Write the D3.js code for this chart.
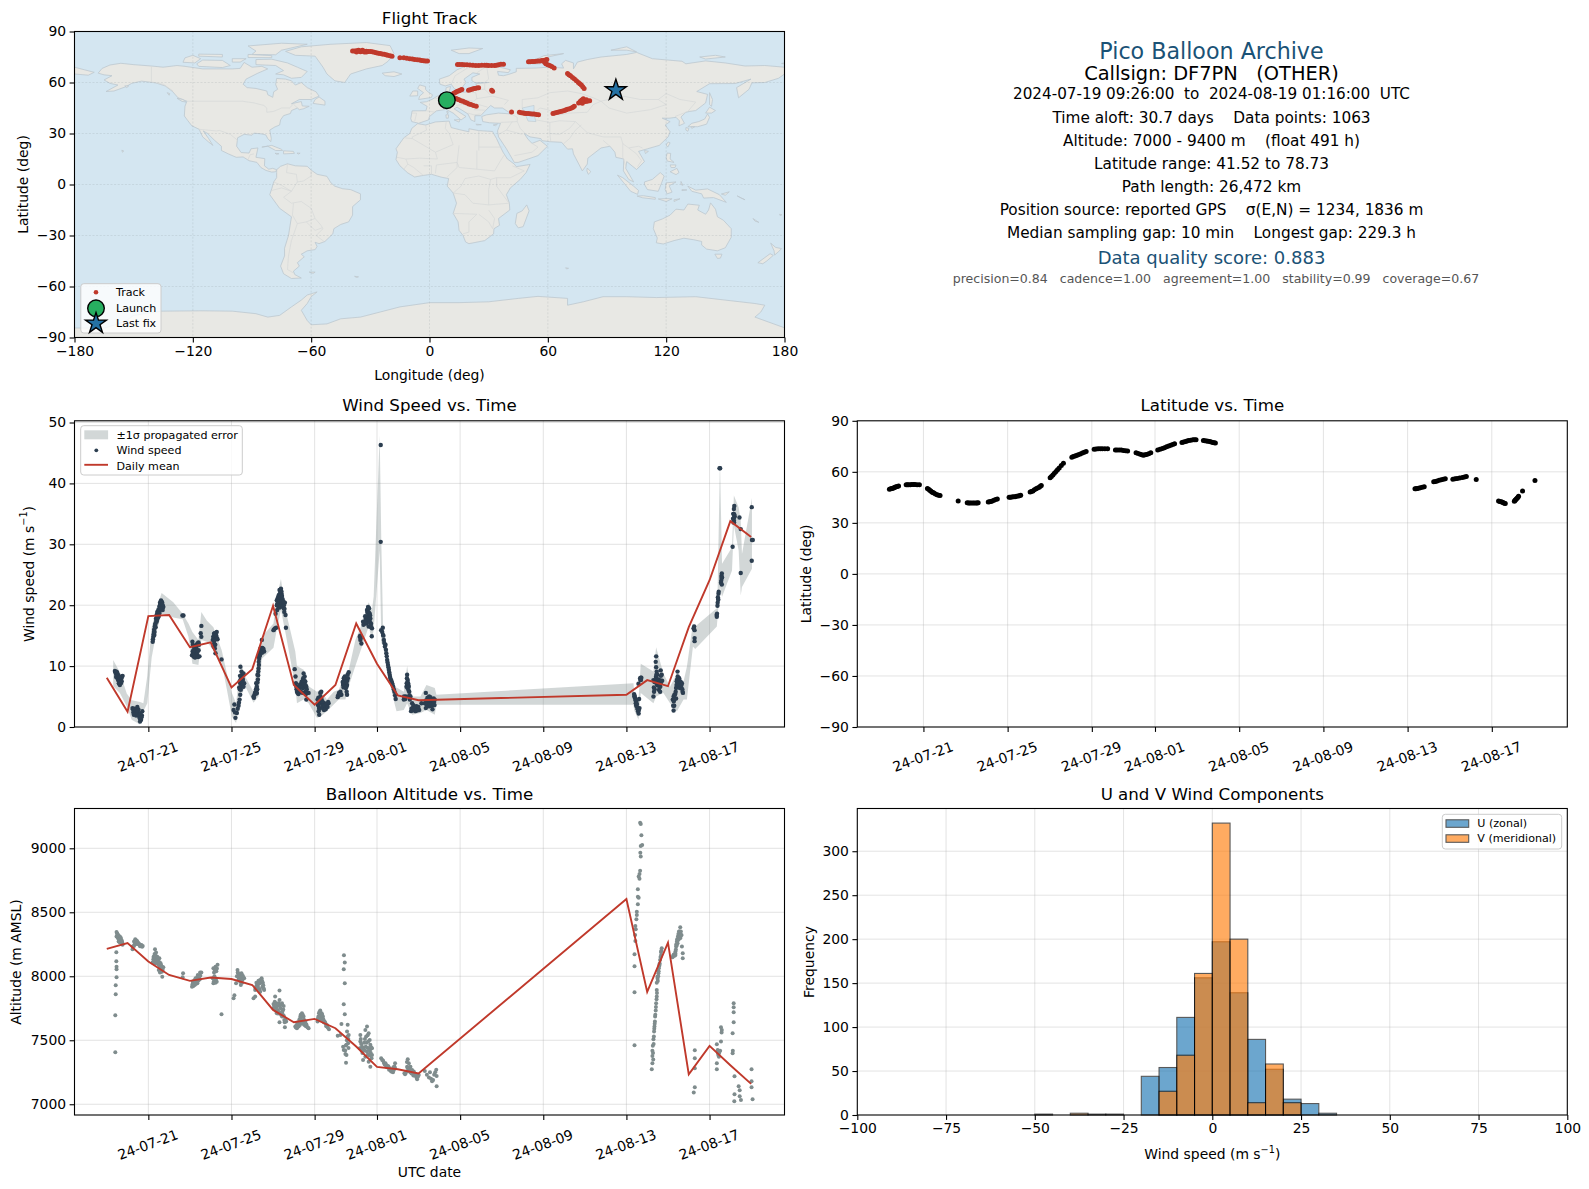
<!DOCTYPE html>
<html><head><meta charset="utf-8">
<script src="https://cdn.jsdelivr.net/npm/d3@7/dist/d3.min.js"></script>
<style>
html,body{margin:0;padding:0;background:#fff}
svg{display:block}
text{font-family:"DejaVu Sans",sans-serif;white-space:pre}
</style></head><body>
<svg id="c" width="1589" height="1189"></svg>
<script>
// ---------- values; day numbers count from 2024-07-21 00:00 UTC
const flightStartDay = -1.608, flightEndDay = 29.053, meanStartDay = -2;
const dateTicks = ["2024-07-21","2024-07-25","2024-07-29","2024-08-01","2024-08-05","2024-08-09","2024-08-13","2024-08-17"];

const meanDays = [-2,-1,0,1,2,3,4,5,6,7,8,9,10,11,12,13,23,24,25,26,27,28,29];
const meanWind = [8.07,2.5,18.2,18.4,13.1,13.9,6.5,9.5,19.9,6.9,3.65,6.9,17,10.4,5.2,4.4,5.3,7.7,6.7,16.4,24.1,33.8,31.2];
const meanAlt = [8214,8260,8115,8010,7964,7990,7979,7932,7737,7641,7667,7594,7451,7292,7273,7240,8604,7878,8263,7234,7456,7305,7159];

const windPoints = [[-1.61,9.2],[-1.56,8.8],[-1.53,8.4],[-1.49,8.1],[-1.53,9.1],[-1.45,7.7],[-1.41,7.5],[-1.40,7.1],[-1.37,6.9],[-1.33,7.6],[-1.30,8.0],[-1.27,8.3],[-1.24,8.4],[-1.32,7.2],[-1.43,8.0],[-1.48,8.6],
[-0.76,3.1],[-0.69,2.6],[-0.64,2.2],[-0.59,2.8],[-0.53,3.3],[-0.48,2.3],[-0.43,1.7],[-0.35,1.2],[-0.29,2.6],[-0.31,1.9],[-0.40,0.9],[-0.59,1.9],[-0.48,2.9],[-0.72,2.4],[-0.56,2.6],
[.21,14.0],[.24,14.8],[.27,15.6],[.31,16.5],[.34,17.0],[.37,17.8],[.40,18.4],[.43,18.9],[.48,19.2],[.53,19.7],[.56,20.4],[.61,20.8],[.66,20.5],[.72,19.7],[.69,19.2],[.50,18.6],[.40,17.3],[.29,15.1],[.56,19.3],[.63,20.0],
[1.64,18.3],[1.69,18.3],
[2.12,14.0],[2.14,13.5],[2.17,12.6],[2.20,11.8],[2.25,11.4],[2.30,12.4],[2.33,13.5],[2.36,13.7],[2.41,13.9],[2.46,11.6],[2.36,11.7],[2.10,11.8],[2.17,11.6],[2.22,13.1],[2.30,11.8],[2.55,16.6],[2.52,15.4],[2.55,14.8],
[3.29,15.6],[3.16,15.3],[3.21,14.8],[3.33,14.4],[3.10,14.3],[3.16,13.7],[3.20,12.9],[3.23,12.1],[3.52,11.1],
[4.10,2.8],[4.19,1.5],[4.26,2.3],[4.14,3.7],[4.34,3.5],[4.39,4.5],[4.42,5.3],[4.45,6.1],[4.42,7.2],[4.43,9.9],[4.48,9.1],[4.51,8.6],[4.55,7.7],[4.61,7.2],[4.39,7.5],[4.50,6.9],[4.58,8.8],
[5.06,5.0],[5.11,5.3],[5.16,5.8],[5.22,6.6],[5.19,7.2],[5.25,8.6],[5.29,9.1],[5.32,10.2],[5.29,11.6],[5.35,12.1],[5.41,12.6],[5.46,14.3],[5.51,12.5],[5.57,12.4],[5.22,5.6],[5.25,7.3],
[6.02,15.9],[6.09,16.2],[6.15,16.3],[6.12,18.6],[6.18,20.0],[6.22,21.1],[6.27,20.5],[6.31,22.5],[6.38,22.7],[6.41,21.9],[6.44,20.8],[6.47,20.3],[6.51,19.5],[6.54,18.9],[6.60,18.4],[6.62,16.3],[6.35,20.3],[6.18,20.8],[6.41,21.4],[6.57,20.4],
[7.04,9.5],[7.08,8.3],[7.12,6.6],[7.15,5.8],[7.18,5.6],[7.24,5.6],[7.31,6.6],[7.39,7.2],[7.47,8.8],[7.52,8.3],[7.55,7.5],[7.60,6.6],[7.63,5.6],[7.71,5.6],[7.60,4.5],[7.34,5.8],[7.44,6.4],[7.23,6.4],[7.55,5.8],
[8.14,4.5],[8.19,2.6],[8.22,2.0],[8.27,5.6],[8.32,5.8],[8.35,3.9],[8.40,3.7],[8.43,3.1],[8.51,3.1],[8.59,3.4],[8.67,3.9],[8.21,3.1],[8.47,3.9],[8.31,4.5],
[9.11,4.9],[9.17,5.6],[9.24,5.8],[9.29,5.3],[9.37,6.9],[9.40,8.0],[9.45,8.3],[9.49,7.2],[9.53,6.6],[9.56,5.3],[9.59,8.6],[9.64,9.0],[9.56,6.9],[9.37,7.1],
[10.17,14.8],[10.20,14.3],[10.25,13.7],[10.33,17.3],[10.39,17.3],[10.46,17.8],[10.52,19.2],[10.57,19.7],[10.62,19.5],[10.65,18.6],[10.68,17.8],[10.71,17.0],[10.76,16.2],[10.75,14.9],[10.49,17.0],[10.60,16.5],
[11.18,46.3],[11.18,30.4],
[11.2,15.9],[11.28,16.3],[11.29,15.1],[11.33,14.3],[11.41,13.5],[11.45,12.1],[11.49,11.0],[11.53,10.2],[11.57,9.4],[11.61,8.6],[11.68,7.7],[11.73,7.2],[11.78,6.6],[11.84,5.8],[11.90,4.6],
[12.29,4.5],[12.39,5.0],[12.45,8.6],[12.48,7.7],[12.51,6.9],[12.55,5.8],[12.61,5.0],[12.42,6.6],[12.58,4.5],
[12.64,2.6],[12.71,3.1],[12.77,3.4],[12.84,2.6],[12.90,3.4],[12.96,3.1],[13.03,2.8],[12.69,3.9],
[13.14,3.9],[13.30,3.9],[13.35,5.6],[13.35,3.1],[13.46,4.7],[13.51,5.0],[13.57,4.9],[13.62,4.5],[13.67,4.0],[13.73,4.7],[13.78,4.5],[13.67,2.9],[13.51,3.9],[13.41,4.2],
[23.37,5.4],[23.42,4.7],[23.47,4.2],[23.50,3.7],[23.56,2.6],[23.59,2.2],[23.63,3.1],[23.61,4.6],[23.66,8.0],[23.72,8.1],[23.58,7.1],[23.47,3.5],
[24.43,11.6],[24.41,10.7],[24.43,9.8],[24.46,9.1],[24.49,8.6],[24.65,9.3],[24.70,8.6],[24.30,7.7],[24.38,7.5],[24.49,6.9],[24.59,7.7],[24.65,7.2],[24.56,6.1],[24.33,5.8],[24.30,5.0],[24.62,5.8],[24.72,7.6],
[25.27,2.7],[25.30,3.5],[25.23,4.5],[25.31,5.3],[25.39,6.4],[25.42,7.5],[25.46,9.1],[25.51,8.0],[25.59,7.5],[25.67,7.2],[25.64,6.4],[25.72,5.6],[25.39,4.7],[25.27,5.0],[25.56,6.9],
[26.26,16.5],[26.28,15.9],[26.28,14.6],[26.28,14.1],[26.23,16.2],
[27.34,18.4],[27.35,18.1],[27.39,20.4],[27.40,21.3],[27.43,21.9],[27.55,23.7],[27.59,23.4],[27.58,24.4],[27.59,25.2],[27.44,22.2],
[27.51,42.5],[27.48,42.5],[28.11,29.6],[28.17,33.9],[28.16,35.0],[28.19,36.3],[28.17,35.8],[28.21,34.6],[28.13,34.2],[28.44,34.4],[28.50,25.3],[28.50,32.5],[29.03,36.1],[29.04,30.7],[29.08,30.7],[29.03,27.3]];
const windDense = [[-1.58,9.0],[-1.55,8.2],[-1.5,8.9],[-1.47,7.9],[-1.44,8.5],[-1.42,7.2],[-1.38,7.8],[-1.35,7.3],[-1.31,7.9],[-1.28,7.5],[-1.39,8.2],
[-.74,2.9],[-.67,3.0],[-.62,2.5],[-.57,2.2],[-.51,2.7],[-.46,1.9],[-.41,1.4],[-.38,2.2],[-.33,1.6],[-.7,2.0],
[.22,14.4],[.25,15.2],[.28,16],[.3,15.6],[.33,16.8],[.35,16.4],[.38,17.4],[.41,18],[.42,17.6],[.44,18.4],[.46,18.8],[.49,18.2],[.52,19],[.54,18.7],[.55,19.9],[.58,20],[.6,20.2],[.64,20.4],[.65,19.4],[.68,20.1],[.7,19.8],[.59,19.5],[.47,18],
[2.13,12.4],[2.15,11.9],[2.18,13.2],[2.19,12.2],[2.21,11.5],[2.23,12],[2.26,12.6],[2.27,13.3],[2.28,11.7],[2.31,13],[2.34,12],[2.38,12.5],[2.39,11.5],[2.42,12.6],[2.44,13.5],
[3.12,14.8],[3.14,13.2],[3.18,14.2],[3.19,15.4],[3.22,13.5],[3.25,14.6],[3.27,15],[3.3,14.6],
[4.37,6.5],[4.4,6.2],[4.41,8.4],[4.44,7.8],[4.46,6.6],[4.47,8],[4.49,7.4],[4.52,6.8],[4.53,8],[4.56,7],[4.58,6.6],[4.17,2.4],[4.3,3],[4.36,4],
[5.08,4.8],[5.13,5.6],[5.18,6.2],[5.2,5.5],[5.24,6.2],[5.27,7.8],[5.28,8.5],[5.3,9.6],[5.31,10.7],[5.33,11.2],[5.37,11.7],[5.38,12.8],[5.43,13],[5.47,12.2],[5.49,13],[5.54,12.8],
[6.05,16],[6.2,19.2],[6.21,20.3],[6.24,20],[6.25,21.4],[6.26,19.7],[6.28,21.7],[6.29,20.9],[6.3,19.6],[6.32,21.5],[6.33,20.7],[6.34,22],[6.36,21.3],[6.37,19.8],[6.39,20.6],[6.4,22.3],[6.42,20.3],[6.43,21.5],[6.45,19.8],[6.46,21],[6.48,19.9],[6.5,20.6],[6.52,20],[6.55,19.4],
[7.1,7.2],[7.13,6.2],[7.16,6.6],[7.2,6],[7.22,5.4],[7.26,6.4],[7.28,5.8],[7.3,7],[7.33,6.8],[7.36,6.5],[7.37,7.4],[7.41,6.5],[7.42,7.6],[7.43,5.6],[7.45,8],[7.46,7.2],[7.49,7.6],[7.5,6.6],[7.53,7],[7.57,6.8],[7.58,5.4],[7.62,6.2],
[8.16,3.6],[8.18,4.8],[8.2,3.6],[8.24,4.2],[8.25,3],[8.28,5],[8.33,4.6],[8.36,3.2],[8.38,4.2],[8.42,3.5],[8.45,2.8],[8.49,3.5],[8.53,2.9],[8.56,3.7],[8.62,3.3],[8.65,4.1],
[9.13,5.2],[9.2,5.2],[9.22,5.5],[9.26,5.4],[9.35,7.4],[9.39,6.5],[9.42,7.4],[9.44,6.6],[9.47,7.8],[9.5,6.4],[9.52,7.4],[9.54,5.8],[9.57,7.6],[9.6,8],
[10.19,15],[10.22,14.6],[10.35,16.8],[10.41,17],[10.43,18.2],[10.47,17.2],[10.5,18],[10.51,17.6],[10.54,18.8],[10.55,18],[10.56,19],[10.58,18.4],[10.59,17.6],[10.61,18.8],[10.63,17.5],[10.64,18],[10.66,17.2],[10.67,18.3],[10.7,16.8],[10.72,16.4],
[11.25,15.6],[11.31,15],[11.35,13.8],[11.38,13.2],[11.43,12.7],[11.47,11.6],[11.51,10.6],[11.55,9.8],[11.59,9],[11.63,8.2],[11.65,7.9],[11.7,7.5],[11.75,6.9],[11.81,6.2],[11.87,5.2],
[12.3,5],[12.36,4.6],[12.43,7.2],[12.44,8],[12.46,7.2],[12.47,6.4],[12.5,7.2],[12.52,6],[12.53,6.6],[12.56,5.2],[12.66,3],[12.73,2.8],[12.75,3.6],[12.8,3],[12.87,3.2],[12.93,2.7],[12.99,3.3],
[13.37,4.4],[13.39,3.6],[13.43,4.8],[13.45,3.4],[13.48,4.4],[13.5,4.6],[13.53,3.4],[13.54,4.3],[13.56,3.7],[13.59,4.4],[13.6,3.5],[13.64,4.3],[13.66,3.5],[13.69,4.4],[13.71,3.7],[13.75,4.1],[13.77,3.6],
[23.38,5],[23.4,5.1],[23.44,4.4],[23.45,3.9],[23.49,3.9],[23.52,3.2],[23.54,2.9],[23.6,2.8],[23.67,7.7],[23.69,8.1],[23.7,7.7],
[24.32,6.5],[24.35,7.4],[24.36,6.2],[24.4,7.7],[24.42,8.2],[24.44,8.6],[24.45,7.6],[24.47,7],[24.48,7.8],[24.5,7.4],[24.52,6.8],[24.54,7.8],[24.55,7.2],[24.57,6.8],[24.58,7.2],[24.6,6.8],[24.63,6.6],[24.66,8.4],[24.67,7.6],
[25.25,3.5],[25.28,4.2],[25.33,4.6],[25.35,5.4],[25.37,5.8],[25.41,6.9],[25.44,7.8],[25.47,8.3],[25.48,7.2],[25.5,6.8],[25.52,7.5],[25.54,8],[25.55,7.2],[25.57,6.4],[25.6,6.9],[25.62,7.3],[25.65,6.9],[25.69,6.2],[25.7,5.8],
[27.36,18.6],[27.38,19.9],[27.41,21],[27.42,20.9],[27.56,24],[27.57,24.8],[27.6,24.6],[28.14,35],[28.15,33.6],[28.18,34.4],[28.19,34.9],[28.18,33.6]];

// day, upper edge, lower edge of the +/-1 sigma band
const windBand = [[-1.69,11,6.7],[-1.37,9,5.6],[-1.04,5.5,3.4],[-.8,4.4,1.2],[-.4,4.1,.4],[-.24,3.9,2.6],[-.05,8.4,3.9],[.16,16.4,11.4],[.4,19.6,15.8],[.64,22,18.6],[1.2,20.5,18],[1.65,18.6,17.7],[1.93,17,14.8],[2.12,15.6,10.4],[2.41,14.3,10.2],[2.55,18.9,14.3],[2.81,17.5,14],[3.13,16.4,12.6],[3.53,12.6,10.5],[3.78,8.8,6.1],[4.02,5.6,1.7],[4.22,3.9,.65],[4.45,10.6,5],[4.66,8.3,6.7],[5.06,5.8,4],[5.3,11.6,5],[5.46,14.8,11.2],[6.02,17,13],[6.18,21.4,16],[6.38,24.3,19.2],[6.6,19.2,15.4],[7.07,12.4,6.7],[7.15,10,3.9],[7.47,9.4,4.5],[7.71,6.7,3.9],[8.11,5.8,1.5],[8.27,6.1,1.7],[8.59,4.5,2.6],[8.92,5.8,3.7],[9.16,6.1,4.5],[9.48,8.8,4.5],[9.64,9.3,6.7],[9.96,14.3,10],[10.28,17,13.2],[10.6,20.5,16.5],[10.76,19.2,14.3],[10.84,21.4,16],[11.13,47.9,29],[11.21,30,13.7],[11.29,17,13.7],[11.57,10.5,7.8],[11.84,6.5,3.9],[11.94,6.5,2.6],[12.29,5.8,2.8],[12.45,10,3.9],[12.69,5,2],[13.09,5,2.3],[13.38,6.9,2.8],[13.78,6.4,2],[13.86,5.3,3.65],[23.34,7.2,3.65],[23.37,5.8,2.8],[23.58,4.5,1.2],[23.69,10.4,5.6],[24.3,9.1,3.9],[24.43,13.1,5],[24.78,8.8,5.6],[25.1,6.6,3.9],[25.43,8.8,2.6],[25.75,7.5,4.5],[25.91,9.9,4.5],[26.2,17,13.2],[26.31,16.5,12.8],[27.35,19.5,16.5],[27.39,22.7,18.1],[27.5,43.7,23],[27.6,26.8,21.4],[28.08,29.5,25.7],[28.17,38,33.1],[28.4,36.1,29],[28.5,33.9,21.6],[28.56,28.4,23],[29.04,37.6,26]];

const altPoints = [[-1.53,8346],[-1.49,8331],[-1.46,8315],[-1.43,8305],[-1.40,8294],[-1.37,8310],[-1.33,8289],[-1.30,8273],[-1.27,8258],[-1.24,8247],[-1.43,8271],[-1.37,8263],[-1.53,8310],
[-1.54,8187],[-1.54,8117],[-1.53,8075],[-1.53,8055],[-1.53,7992],[-1.57,7930],[-1.57,7859],[-1.59,7695],[-1.59,7406],
[-.76,8211],[-.69,8271],[-.63,8289],[-.56,8279],[-.5,8263],[-.43,8253],[-.37,8242],[-.27,8237],[-.69,8237],[-.56,8253],[-.76,8232],
[.21,8107],[.27,8154],[.32,8211],[.37,8185],[.4,8154],[.47,8128],[.53,8141],[.59,8102],[.66,8075],[.72,8070],[.67,7997],[.56,8029],[.5,8049],[.34,8102],[.24,8133],
[1.67,8023],[1.65,7992],[2.1,7919],[2.17,7924],[2.23,7932],[2.3,7950],[2.36,7997],[2.43,7984],[2.49,8029],[2.55,8029],[2.25,7971],[2.36,7945],[2.14,7958],
[3.13,8062],[3.23,8075],[3.33,8091],[3.16,8029],[3.1,7984],[3.13,7945],[3.23,7950],[3.29,7958],[3.52,7703],
[4.1,7828],[4.14,7851],[4.22,7945],[4.29,8049],[4.32,8023],[4.39,7997],[4.48,8023],[4.55,8003],[4.61,7984],[4.45,7932],[4.42,7958],[4.51,7950],
[5.06,7828],[5.14,7841],[5.14,7893],[5.25,7945],[5.32,7958],[5.38,7971],[5.45,7984],[5.51,7950],[5.57,7893],[5.38,7880],[5.25,7898],[5.19,7919],
[6.02,7784],[6.1,7841],[6.15,7789],[6.22,7737],[6.31,7888],[6.31,7815],[6.43,7789],[6.51,7768],[6.35,7711],[6.43,7685],[6.54,7659],[6.63,7646],[6.31,7641],[6.57,7602],[6.02,7750],[6.18,7711],
[7.07,7607],[7.15,7594],[7.23,7607],[7.31,7685],[7.39,7711],[7.47,7685],[7.55,7646],[7.63,7607],[7.71,7594],[7.18,7628],[7.34,7633],[7.47,7628],
[8.14,7646],[8.21,7711],[8.27,7732],[8.34,7711],[8.4,7685],[8.47,7646],[8.53,7628],[8.59,7620],[8.69,7586],[8.24,7672],
[9.11,7536],[9.24,7542],[9.29,7628],[9.37,7450],[9.4,7424],[9.41,8164],[9.45,8107],[9.4,8055],[9.45,7945],[9.4,7781],[9.45,7703],[9.48,7393],[9.53,7385],[9.51,7325],[9.59,7622],[9.56,7568],[9.64,7542],[9.61,7477],[9.53,7464],
[10.2,7542],[10.2,7490],[10.28,7450],[10.33,7424],[10.33,7346],[10.44,7581],[10.52,7607],[10.6,7555],[10.65,7503],[10.68,7464],[10.76,7437],[10.76,7385],[10.6,7333],[10.68,7294],[10.44,7372],[10.52,7411],[10.17,7437],
[11.2,7359],[11.29,7341],[11.41,7307],[11.52,7299],[11.61,7281],[11.73,7255],[11.81,7268],[11.87,7320],[11.87,7281],[11.41,7320],
[12.32,7242],[12.42,7255],[12.48,7352],[12.53,7320],[12.61,7294],[12.69,7268],[12.77,7255],[12.85,7237],[12.93,7195],[13.01,7229],[12.45,7294],
[13.3,7260],[13.4,7230],[13.5,7210],[13.55,7250],[13.6,7200],[13.65,7180],[13.7,7190],[13.75,7230],[13.8,7250],[13.85,7270],[13.87,7140],[13.87,7220],
[23.66,9200],[23.69,9190],[23.72,9101],[23.69,9018],[23.76,9026],[23.67,8966],[23.69,8935],[23.66,8825],[23.63,8799],[23.59,8779],[23.63,8763],[23.55,8680],[23.55,8622],[23.59,8614],[23.55,8562],[23.5,8505],[23.5,8479],[23.48,8445],[23.43,8393],[23.45,8367],[23.42,8323],[23.43,8276],[23.39,8172],[23.39,8078],[23.39,7875],[23.39,7461],
[24.7,8219],[24.67,8167],[24.62,8128],[24.56,8062],[24.54,8023],[24.51,7963],[24.46,7950],[24.46,7893],[24.46,7841],[24.43,7789],[24.41,7732],[24.38,7685],[24.37,7646],[24.35,7607],[24.33,7568],[24.3,7508],[24.27,7458],[24.25,7419],[24.25,7378],[24.25,7320],[24.22,7273],[24.59,8088],[24.49,7997],
[25.59,8383],[25.65,8323],[25.55,8349],[25.51,8310],[25.43,8271],[25.39,8232],[25.36,8193],[25.3,8167],[25.22,8148],[25.36,8167],[25.67,8232],[25.71,8180],[25.71,8141],[25.46,8258],
[26.29,7422],[26.29,7359],[26.29,7281],[26.29,7133],[26.24,7091],
[27.35,7469],[27.39,7424],[27.45,7398],[27.51,7419],[27.55,7490],[27.59,7581],[27.55,7602],[27.58,7560],[27.35,7320],[27.35,7273],[27.45,7372],
[28.16,7789],[28.16,7758],[28.16,7719],[28.16,7641],[28.11,7555],[28.12,7419],[28.11,7398],[28.2,7219],[28.4,7141],[28.45,7109],[28.2,7078],[28.19,7023],[28.45,7062],[28.51,7034],[29.02,7273],[29.02,7180],[29.02,7133],[29.07,7039]];
const altDense = [[-1.5,8335],[-1.47,8300],[-1.44,8320],[-1.42,8285],[-1.39,8280],[-1.36,8290],[-1.35,8270],[-1.32,8300],[-1.31,8265],[-1.28,8280],[-1.26,8265],
[-.66,8250],[-.6,8270],[-.53,8270],[-.46,8248],[-.4,8235],[-.33,8245],[-.3,8230],
[.23,8110],[.25,8150],[.28,8130],[.3,8175],[.33,8140],[.35,8160],[.38,8120],[.41,8130],[.42,8105],[.44,8150],[.46,8095],[.49,8110],[.52,8085],[.54,8110],[.57,8060],[.6,8065],[.62,8085],[.63,8040],[.65,8035],[.69,8050],
[2.12,7935],[2.15,7940],[2.18,7950],[2.2,7965],[2.21,7945],[2.24,7955],[2.27,7985],[2.28,7940],[2.32,7975],[2.34,7960],[2.38,8010],[2.4,7965],[2.45,8000],[2.47,7975],[2.5,8005],
[3.15,7960],[3.18,8000],[3.2,8045],[3.25,7975],[3.27,8040],[3.3,8060],
[4.26,8000],[4.3,8030],[4.34,7975],[4.36,8010],[4.4,7975],[4.43,8010],[4.46,7990],[4.47,7965],[4.5,8010],[4.53,7975],[4.57,7990],
[5.16,7905],[5.2,7950],[5.22,7930],[5.27,7920],[5.29,7940],[5.3,7965],[5.35,7945],[5.37,7900],[5.4,7950],[5.42,7965],[5.47,7965],[5.49,7920],[5.53,7930],[5.55,7905],
[6.05,7770],[6.08,7800],[6.12,7750],[6.16,7725],[6.2,7765],[6.24,7710],[6.27,7790],[6.29,7720],[6.33,7770],[6.36,7750],[6.38,7700],[6.4,7780],[6.45,7725],[6.47,7700],[6.49,7740],[6.52,7690],[6.56,7640],[6.6,7660],
[7.1,7600],[7.13,7620],[7.17,7605],[7.2,7640],[7.24,7630],[7.27,7665],[7.29,7620],[7.33,7700],[7.36,7660],[7.37,7690],[7.41,7650],[7.43,7700],[7.45,7655],[7.49,7660],[7.51,7620],[7.53,7640],[7.58,7610],[7.6,7625],[7.67,7600],
[8.16,7670],[8.18,7685],[8.2,7660],[8.23,7720],[8.25,7690],[8.29,7710],[8.3,7685],[8.32,7665],[8.36,7700],[8.38,7665],[8.42,7665],[8.44,7640],[8.5,7640],[8.56,7610],[8.63,7600],
[9.55,7500],[9.58,7530],[9.62,7510],[9.5,7460],[9.47,7420],[9.63,7440],
[10.22,7510],[10.24,7470],[10.26,7420],[10.3,7400],[10.35,7440],[10.38,7480],[10.4,7420],[10.42,7510],[10.46,7450],[10.48,7530],[10.5,7480],[10.54,7440],[10.55,7540],[10.57,7390],[10.58,7490],[10.62,7440],[10.64,7380],[10.66,7420],[10.7,7400],[10.72,7445],[10.74,7360],
[11.25,7345],[11.33,7325],[11.37,7310],[11.45,7305],[11.48,7290],[11.55,7295],[11.58,7270],[11.65,7265],[11.68,7255],[11.77,7250],[11.79,7290],[11.84,7295],
[12.35,7235],[12.38,7245],[12.44,7330],[12.47,7285],[12.5,7280],[12.55,7260],[12.57,7290],[12.6,7250],[12.63,7265],[12.66,7240],[12.72,7245],[12.75,7225],[12.8,7225],[12.88,7225],[12.9,7210],[12.97,7215],
[24.28,7400],[24.29,7350],[24.31,7470],[24.32,7530],[24.34,7590],[24.36,7630],[24.39,7700],[24.42,7760],[24.45,7820],[24.47,7870],[24.5,7980],[24.53,8000],[24.55,8040],[24.58,8080],[24.6,8100],[24.64,8150],[24.66,8190],[24.68,8200],
[25.25,8160],[25.28,8170],[25.32,8160],[25.35,8180],[25.38,8210],[25.4,8250],[25.42,8240],[25.44,8290],[25.47,8280],[25.48,8310],[25.5,8330],[25.52,8290],[25.53,8350],[25.56,8310],[25.58,8330],[25.6,8300],[25.62,8350],[25.63,8320],
[27.4,7400],[27.42,7385],[27.47,7410]];

const latPoints = [[-1.615,49.8],[-1.5,50.2],[-1.4,50.7],[-1.3,51.2],[-1.18,51.6],[-.82,52.35],[-.7,52.4],[-.55,52.5],[-.4,52.5],[-.19,52.4],[.19,50.2],[.3,49.2],[.4,48.2],[.5,47.5],[.65,46.6],[.79,46.1],[1.65,42.9],[2.08,41.8],[2.2,41.7],[2.35,41.7],[2.5,41.7],[2.6,41.8],[3.08,42.2],[3.2,42.6],[3.35,43.3],[3.51,44.1],[4.07,45.1],[4.2,45.2],[4.35,45.4],[4.5,45.8],[4.62,46.3],[5.07,48.2],[5.2,48.8],[5.35,50],[5.5,51],[5.6,52],[6.02,56.5],[6.15,58.2],[6.3,60.2],[6.45,62.3],[6.65,65.1],[7.05,68.6],[7.2,69.3],[7.35,70],[7.55,71],[7.73,72],[8.11,73.3],[8.3,73.5],[8.5,73.6],[8.75,73.5],[9.12,72.9],[9.3,72.9],[9.5,72.6],[9.7,72.2],[10.1,71.2],[10.3,70.4],[10.45,69.8],[10.6,70.2],[10.8,71.2],[11.13,72.9],[11.35,73.7],[11.55,74.8],[11.75,75.6],[11.93,76.5],[12.28,77.3],[12.45,77.8],[12.6,78.4],[12.8,78.8],[12.95,78.9],[13.3,78.4],[13.45,78.1],[13.6,77.8],[13.75,77.3],[13.87,76.9],[23.35,50],[23.45,50.2],[23.6,50.6],[23.79,51.2],[24.24,54.1],[24.4,54.6],[24.6,55.3],[24.79,55.9],[25.15,55.7],[25.35,56.1],[25.6,56.7],[25.79,57.3],[26.26,55.5],[27.32,42.9],[27.45,42.4],[27.55,41.8],[27.64,41.4],[28.07,42.7],[28.12,43.5],[28.2,44.5],[28.27,45.7],[28.46,48.8],[29.05,54.9]];
const latDense = [[-1.55,50],[-1.45,50.4],[-1.35,50.9],[-1.24,51.4],[-.76,52.4],[-.62,52.45],[-.47,52.5],[-.3,52.45],[.25,49.7],[.35,48.7],[.45,47.8],[.57,47],[.72,46.3],[2.14,41.75],[2.27,41.7],[2.42,41.7],[2.55,41.75],[3.14,42.4],[3.27,42.9],[3.43,43.7],[4.13,45.1],[4.27,45.3],[4.42,45.6],[4.56,46],[5.13,48.5],[5.27,49.4],[5.42,50.5],[5.55,51.5],[6.08,57.3],[6.22,59.2],[6.37,61.2],[6.55,63.7],[7.12,69],[7.27,69.6],[7.45,70.5],[7.64,71.5],[8.2,73.4],[8.4,73.55],[8.62,73.55],[9.2,72.9],[9.4,72.8],[9.6,72.4],[10.2,70.8],[10.38,70],[10.52,70],[10.7,70.7],[11.24,73.3],[11.45,74.2],[11.65,75.2],[11.84,76],[12.36,77.5],[12.52,78.1],[12.7,78.6],[12.88,78.85],[13.37,78.25],[13.52,78],[13.67,77.5],[13.81,77.1],[23.4,50.1],[23.52,50.4],[23.7,50.9],[24.32,54.3],[24.5,55],[24.7,55.6],[25.25,55.9],[25.47,56.4],[25.7,57],[27.38,42.6],[27.5,42.1],[27.6,41.6],[28.1,43.1],[28.16,44],[28.24,45.1]];

const trackPoints = [[10,49.8],[11.5,50.3],[13.5,50.6],[15,49.8],[17,48.9],[19,47.9],[21,47],[23.7,46.1],[12.2,53.5],[13.5,54.4],[15,55.2],[16.4,55.9],[19.8,55.5],[21.5,56],[23,56.5],[24.9,56.9],[32,54.9],[31.5,55.5],[41.6,42.7],[45.6,42.5],[47.5,42],[49,41.8],[51,41.6],[53,41.4],[55.3,41],[62.6,41.8],[64.5,42.3],[66.5,43],[68.5,43.6],[70,44.3],[72,45],[73.4,46.1],[75.6,48],[77,48.5],[79,48.8],[81.2,49.2],[78,50.5],[76.5,49],[77.5,47.8],[78.4,56.5],[77,58.5],[75.5,60],[73.5,62],[71.5,64],[70,65.3],[63.2,68.6],[61,70],[59,71],[57.8,72.5],[50.2,72.2],[52,72.3],[54,72.5],[56,72.7],[58,73],[59.5,73.5],[37.5,70.8],[35,70.5],[33,70],[30,70],[28,70.2],[25,70],[22,70.1],[19,70.4],[16.5,70.6],[14.2,70.6],[-1,72.7],[-3,72.8],[-5,73.2],[-7.5,73.6],[-10,74],[-13,74.6],[-15,74.5],[-21.2,76.1],[-19,75.5],[-23,76.6],[-25,77],[-27,77.5],[-29,78.1],[-31,78.3],[-33,78.4],[-35,78.6],[-37,78.7],[-39,78.5],[-37,78],[-34,78.9],[-32,78]];
const trackDense = [[12.5,50.5],[14.2,50.2],[16,49.3],[18,48.4],[20,47.4],[22.3,46.5],[12.8,54],[14.2,54.8],[15.7,55.6],[20.6,55.8],[22.2,56.3],[24,56.7],[46.5,42.2],[48.2,41.9],[50,41.7],[52,41.5],[54.2,41.2],[63.5,42],[65.5,42.7],[67.5,43.3],[69.2,44],[71,44.6],[72.7,45.5],[76.3,48.3],[78,48.7],[80,49],[79.6,49.8],[77.2,49.7],[77.7,57.5],[76.2,59.2],[74.5,61],[72.5,63],[70.7,64.6],[62,69.4],[60,70.5],[58.5,71.8],[51,72.2],[53,72.4],[55,72.6],[57,72.9],[58.8,73.3],[36.2,70.7],[34,70.2],[31.5,70],[29,70.1],[26.5,70.1],[23.5,70],[20.5,70.3],[17.7,70.5],[15.3,70.6],[-2,72.7],[-4,73],[-6.2,73.4],[-8.7,73.8],[-11.5,74.3],[-20,75.8],[-22,76.3],[-24,76.8],[-26,77.2],[-28,77.8],[-30,78.2],[-32,78.4],[-34,78.5],[-36,78.6],[-38,78.6],[-35,78.1],[-36,79],[-33,78]];
const launchPoint = [8.8,49.6], lastFixPoint = [94.5,55.5];

const landPolygons = [
[[-168,65.5],[-166,68.3],[-162,70.3],[-156.5,71.3],[-150,70.5],[-141,69.7],[-135,69],[-128,70],[-124,69.5],[-115,68],[-108,68],[-100,68],[-96,68.3],[-94,71.8],[-90,69],[-85,69.5],[-82,68],[-87,65.5],[-93,62],[-94.5,59],[-92.5,57],[-88,56.5],[-82.5,55],[-82,52.8],[-79.5,51.3],[-79,54.5],[-77,56],[-78,58.8],[-77.5,62.4],[-73,62],[-70,61],[-68,58.5],[-65,60],[-62,57],[-57.5,54.5],[-56,52],[-60,50],[-66,50],[-70,47.5],[-65,48.8],[-64.5,46.2],[-61,46],[-64,44.5],[-66,44],[-67,45],[-70,43.5],[-70.5,41.8],[-74,40.5],[-75.5,38],[-76,35],[-78.5,33.8],[-81,32],[-80.2,27],[-80.5,25.2],[-82,27],[-83,29.2],[-85.5,29.8],[-89,30.2],[-90,29],[-94,29.5],[-97.3,27.5],[-97.8,22.5],[-95.5,18.8],[-91.5,18.5],[-90.5,21],[-87,21.5],[-88,16],[-83.5,15.2],[-83.7,11],[-81.5,9],[-79.5,9.5],[-77.5,8.7],[-78,7.5],[-80,7.3],[-83,8.3],[-85.5,10],[-87.5,13],[-91.5,14],[-94.5,16.2],[-98,16],[-102,18],[-105.5,20],[-105.5,22.5],[-109,26],[-112.5,30],[-114.7,31.5],[-112,27],[-109.8,23],[-112,25],[-115,28],[-116.8,32.5],[-120.5,34.5],[-122.5,37.5],[-124.3,40.3],[-124,46],[-123,49],[-127.5,51],[-130.3,54.7],[-134,58],[-139,59.8],[-146,60.8],[-151,59.5],[-154,57.5],[-160,55],[-164,54.7],[-158,58.5],[-162,59.5],[-165,61.5],[-161,64],[-165,64.5]],
[[-73,78.3],[-65,81],[-50,82.5],[-32,83.5],[-20,81.7],[-18,77],[-21,72.5],[-24,70],[-32,68],[-40,65],[-43,60],[-48,61],[-52,65],[-54,69],[-58,75.5],[-68,76]],
[[-80,73.7],[-72,71.5],[-67,69],[-62,66.5],[-65,63],[-70,62.5],[-74,64.5],[-78,65],[-74,67],[-78,70],[-88,70.5],[-88,73.5]],
[[-117,69.5],[-105,68.8],[-101,70],[-105,73],[-115,73.2],[-118,71]],
[[-125,71.9],[-119,71.5],[-116,74],[-120,76],[-124,74.5]],
[[-90,76.5],[-78,76.3],[-75,79],[-62,82.5],[-75,83.1],[-92,81.5],[-88,78.5]],
[[-92,74.7],[-80,74.6],[-80,75.8],[-92,76.5]],
[[-117,75.5],[-105,75],[-105,76.5],[-117,76.7]],
[[-100,72],[-96,72],[-93,74],[-100,74]],
[[-59,47.7],[-53,46.7],[-53,49],[-56,51.5],[-58,50]],
[[-85,22],[-80,23],[-75,20.7],[-74.5,20],[-78,20],[-82,22.5]],
[[-74,19.8],[-69,19.5],[-68.5,18.3],[-74,18]],
[[-78.3,18.4],[-76.3,18.1],[-77.5,17.8]],[[-67.2,18.5],[-65.6,18.4],[-66.5,17.9]],
[[-128,50.7],[-125,50],[-123.5,48.5],[-125.5,48.9]],
[[-156,20.2],[-155,19.7],[-155.7,19]],[[-133,54],[-131.7,53.5],[-132,52.5]],[[-154.5,58],[-152.5,58],[-153.5,57]],
[[-77.5,8.7],[-75.5,10.7],[-72,12.2],[-68,11],[-62,10.7],[-60,8.5],[-57,6],[-52,4.8],[-50,1],[-48,-1],[-44,-2.5],[-40,-3],[-35,-5.5],[-35,-9],[-39,-13],[-39,-18],[-41,-22],[-45,-23.5],[-48.5,-26],[-49,-29],[-53,-33.5],[-56,-34.8],[-58,-34],[-57,-36.5],[-58,-38.3],[-62,-39],[-65,-41],[-63.5,-42.5],[-67,-46],[-66,-48],[-69,-51],[-68.3,-53],[-65,-55],[-70,-55.3],[-74,-52.5],[-75.5,-48],[-73.5,-42],[-73.5,-37.5],[-71.5,-30],[-70,-19],[-76,-14],[-81,-6],[-80,-2.5],[-79,1.5],[-77.5,4],[-77.5,7]],
[[-61,-51.5],[-58,-51.5],[-59,-52.3]],[[-38,-54],[-36,-54.3],[-37,-54.7]],
[[-6,35.8],[-2,35],[3,36.8],[10,37.3],[11,33.5],[15,32.3],[20,31],[20,32.8],[25,31.7],[32,31.2],[32.5,30],[34,27],[36,22],[37.3,19],[39.5,15],[43,12],[44,10.5],[51,11.8],[49,7],[46,3],[41,-2],[39,-6],[40.5,-11],[40.7,-15],[35,-20],[35.5,-24],[32.7,-26],[32.5,-29],[28,-33],[20,-34.8],[18.3,-33.8],[17,-30],[15,-27],[14.5,-22],[12,-17],[13.7,-11],[12,-5],[9,-1],[9.7,3.5],[6,4.3],[1,6],[-4,5.2],[-7.5,4.4],[-11,6.8],[-15,11],[-17,14.7],[-16.3,19],[-17,21],[-13,27.5],[-10,30],[-9,33]],
[[49.3,-12],[50.5,-15.5],[47.5,-24.8],[45,-25.5],[43.5,-23],[44.3,-17],[47,-15.5]],
[[-9,37],[-9.5,38.8],[-8.8,43.3],[-1.8,43.4],[-1.2,46],[-4.7,48.3],[-1.5,48.7],[1.5,50.2],[4,52],[8,53.8],[8.5,57],[10.7,57.7],[10,54.5],[14,54],[19.5,54.5],[21,57],[24,57.5],[23.5,59.3],[30,60],[23,60],[21.5,61],[21.5,63],[25.5,65],[22,65.7],[17.5,62],[18.5,60],[16.5,57],[14,55.4],[12.5,56.5],[11,59],[8,58],[5.3,59],[5,62],[10,64],[14,67.5],[19,70],[25,71],[31,70.3],[41,67.5],[40,65.8],[34.5,66.5],[35,64.3],[37.5,64],[40,64.7],[44,66.3],[44,68.3],[54,68.5],[60,69],[68,68.5],[67,71],[69,73],[73,71.5],[73,68],[75,72],[80,73.5],[87,75],[100,76.5],[105,77.7],[113,74],[128,72.5],[130,71],[140,72.7],[150,71.5],[160,69.7],[170,70],[180,69],[180,65],[177,62.5],[170,60],[163.5,59.8],[162,56],[156.7,51],[155.7,57],[163,62],[155,59.4],[142,59.3],[135.5,54.7],[141,53],[140,48],[135,43.5],[132,43],[130,42.5],[127.5,39.7],[129.3,36],[126.5,34.5],[126.7,37.5],[125,39.5],[121.5,39],[118,39],[122,37],[119.5,35],[122,31],[121,28],[116.5,23],[110.5,21],[106,19.5],[109,13.5],[105,8.8],[100,13.5],[99.5,9.5],[103.5,1.5],[101,3],[98.3,8],[98.5,15],[94.5,16],[94,19],[91.5,22.5],[87,21.5],[80.3,15.5],[80,12],[77.5,8],[73,18],[72.5,21],[70,20.8],[67,24.8],[61,25.2],[57,25.8],[56.5,27],[51,28],[48,30],[50,26.5],[52,24.2],[56,26],[59.8,22.5],[55,17],[45,13],[43,13],[39,21],[35,28],[34.5,31.5],[36,36],[30.5,36.3],[27,37],[26.5,40],[29,41],[35,42],[41.5,41.5],[37,45],[33,45],[31,46.5],[28,43],[26,40.5],[23,40.5],[23,37],[21,38],[19.5,41.5],[14,45.5],[12.5,44.5],[18.5,40],[16,38],[12,42],[8.5,44.2],[3.5,43.3],[0,40],[-0.5,38],[-5.5,36]],
[[-5.5,50],[1,51.2],[1.5,52.8],[-1,54.7],[-2,56],[-2,57.6],[-5,58.6],[-6,56.5],[-3,54],[-5,52]],
[[-10,52],[-6,52.2],[-6,55],[-8.5,55]],
[[-24,65.5],[-18,66.3],[-14,65],[-18,63.5],[-22.5,64]],
[[11,79],[20,80.3],[27,80],[20,77],[15,77]],
[[52,71],[56,71],[60,75],[68,77],[58,75.8],[53,73]],
[[92,79],[100,79],[105,78],[100,81]],
[[137,75],[145,76],[150,75],[140,73.8]],
[[178.5,71.2],[180,71],[180,71.5]],
[[-180,69],[-175,67.5],[-170,66],[-173,64.3],[-180,65]],
[[142,54],[143.5,50],[143,46],[142,47],[142,52]],
[[141,41.5],[142,39.5],[140.5,35.5],[136,34],[132,34],[131,34],[133,36],[136.5,37],[139.5,38.5]],
[[140,42],[142,45.5],[145,43.5],[143,42]],
[[130,33.5],[131.5,33],[131,31.3],[130,32]],
[[132.5,34],[134.5,34],[133,33]],
[[121,25],[122,24.5],[120.8,22],[120,23.3]],
[[109,20],[111,19.5],[109.5,18.2]],
[[120.5,18.5],[122.3,18.3],[122,15],[124,13],[120.5,13.8],[120,16]],
[[122,7.5],[125.5,9.5],[126.5,7],[125,5.8]],
[[122,11.5],[125,11.5],[124.5,10],[122.5,10]],
[[95.3,5.5],[98,4],[103.5,-1],[106,-3.5],[105.5,-5.8],[102,-4],[98.5,1]],
[[105.2,-6.8],[108.5,-6.6],[114.5,-7.7],[114.5,-8.7],[108,-7.8]],
[[109,1.5],[113,3],[117,7],[119,5],[117.7,1],[116,-4],[110.5,-3],[109,0]],
[[120,1],[125,1.5],[121.5,-0.8],[123,-4.5],[120.5,-5.5],[119.5,-3]],
[[131,-1],[135,-3.3],[141,-2.6],[147,-6],[150.5,-10.5],[144,-7.7],[139,-8],[138,-5.5],[133,-4]],
[[80,9.7],[81.8,7.5],[80.5,6],[79.8,8]],
[[124,-9],[127,-8.4],[124,-10]],[[116,-8.5],[120,-8.3],[123,-8.4],[120,-10]],
[[127.5,1.8],[128.5,-0.5],[127.5,0]],[[128,-3],[130.5,-3.2],[128,-3.6]],
[[148,-5.6],[152,-4.3],[150,-6.3]],[[156,-6.7],[160,-9],[158,-8]],
[[114,-22],[113.5,-26],[115.5,-31.5],[115,-34.3],[118.5,-35],[124,-33],[129,-31.6],[134,-32.5],[138,-33.5],[138,-35.6],[140.5,-38],[146,-39],[150,-37.2],[153,-31],[153,-26],[149,-21],[146,-19],[145,-14.5],[142.5,-10.8],[141.5,-15],[140,-17.5],[136,-15],[136.8,-12.2],[131,-11.5],[129,-15],[125,-14.5],[122,-18],[118,-20.3]],
[[144.7,-41],[148.3,-41],[147.5,-43.3],[146,-43.5]],
[[173,-34.5],[175.5,-37],[178.5,-37.7],[177,-39.5],[175,-41.5],[174.7,-39]],
[[172.7,-40.7],[174.3,-41.7],[171,-45],[169,-46.6],[166.5,-46],[170,-43]],
[[12.5,38],[15.5,38.2],[15,36.7]],[[8.3,41],[9.7,41],[9.5,39],[8.5,39]],[[8.7,43],[9.5,42.8],[9.2,41.5]],[[23.5,35.5],[26.3,35.2],[24,35]],[[32.3,35],[34.5,35.6],[33.5,34.6]],
[[164,-20],[167,-22.3],[165,-21.5]],[[69,-49],[70.5,-49.3],[69.5,-49.7]],[[177.5,-17.5],[178.7,-17.8],[177.8,-18.3]],
[[-180,-90],[-180,-84.4],[-165,-84.5],[-155,-81],[-150,-77],[-136,-74.5],[-115,-74.3],[-100,-74.5],[-88,-76],[-82,-78],[-76,-77],[-70,-72],[-65,-68],[-62,-65],[-57,-63.2],[-60,-66],[-62,-70],[-65,-74],[-62,-80],[-60,-82.5],[-52,-82],[-45,-79],[-35,-78],[-25,-75],[-15,-72],[0,-69.5],[15,-69.5],[30,-69],[45,-67],[55,-65.8],[70,-67],[70,-71],[78,-69],[88,-66],[100,-66],[115,-66.5],[135,-66],[150,-68],[165,-70],[170,-71],[168,-75],[165,-78],[180,-84.3],[180,-90]]
];
const caspianSea = [[47,45],[53,46.5],[53,41],[54,37],[50,37.3],[49,40]];
const borderLines = [
[[-123,49],[-95,49],[-89,48],[-84,46.5],[-82.5,45],[-82.5,42.5],[-79,43],[-75,45],[-71,45],[-69,47.3],[-67,45]],[[-141,69.7],[-141,60.3],[-135,59],[-130,55]],
[[-117,32.5],[-108,31.5],[-106.5,31.8],[-101,29.5],[-97.3,26]],[[-92,14.5],[-91,17.5],[-89,18]],
[[-72,12],[-72.5,7],[-67.5,6],[-67,1.5]],[[-60,8.5],[-60,5],[-64,2],[-67,1.5],[-70,-4],[-74,-7.5],[-70,-11],[-65,-10],[-60,-14],[-58,-20],[-55,-24],[-54,-26],[-57.5,-30],[-53.5,-33.5]],
[[-69.5,-18],[-67,-23],[-70,-33],[-71.5,-42],[-72,-50],[-69,-52]],[[-80,-3.5],[-75,-2],[-70,-4]],[[-69.5,-18],[-69,-11]],[[-67,-23],[-62.5,-22],[-58,-20]],[[-62.5,-22],[-58,-27],[-54.5,-25.5]],[[-79,1.5],[-75,-.5],[-70,-4]],
[[-2,35],[-1.5,32],[-8.7,28],[-8.7,27],[-13,27.5]],[[-8.7,27],[3,19],[12,23.5],[10,30],[8,33],[8.5,37]],[[25,31.7],[25,20]],[[25,22],[37,22]],[[24,20],[24,9],[15,10],[14,13],[15,23]],[[-16.5,16],[-12,15],[-5,15.5],[4,15],[3,19]],[[3,6.5],[3.5,11.5],[14,13],[14,10],[9,4.5]],[[-11,12],[-8,10],[-3,5.2]],[[-3,11],[1,11],[1,6]],[[-12,15],[-11,12],[-13,9]],
[[12,-5],[18,-6],[22,-11],[30,-12],[30,-3],[31,3],[25,5],[18,3.5],[16,-1],[12,-5]],[[34,4],[41,4],[48,8],[42,11]],[[34,-1],[40,-10.5]],[[34,-1],[34,4],[31,3]],[[24,9],[33,8],[36,14],[38,17.5]],[[12,-17],[24,-17.5],[20,-22],[20,-28],[17,-29]],[[30,-15],[33,-20],[32,-26]],[[25,-17.5],[30,-22],[32,-26]],[[30,-12],[35,-11.5],[40.5,-11]],
[[-1.8,43.4],[3,42.5]],[[-8.8,42],[-6.5,42],[-7.5,37.2]],[[4,50.5],[8,49],[7.5,47.5],[7,44]],[[7,53.5],[6,51],[4,50.5],[2.5,51]],[[14,54],[15,51],[12.5,50],[13.5,48.5],[10,47.5],[7.5,47.5]],[[19.5,54.5],[23.5,54],[24,50.5],[22.5,49],[19,49.5],[15,51]],[[24,50.5],[32,52],[40,49.5],[38,47]],[[22,48],[29.5,45.5]],[[22.5,44],[28.5,43.7]],[[13.5,46.5],[22,48]],[[19.5,42],[22.5,41],[26,41.5]],[[11,59],[13,64],[20,69],[29,69.5],[30,62],[28,60]],[[24,65.7],[29,69.5]],[[28,60],[28,56],[31,52.5]],[[21,56],[28,56]],
[[36,36.5],[44.5,37],[44.5,39.5],[41.5,41.5]],[[44.5,37],[46,33],[48.5,30]],[[61,36.5],[61,30],[61.5,25.2]],[[35,29.5],[39,32],[47,29.5]],[[43,17],[52,19],[55,22],[52,24.2]],[[39,32],[42,37]],
[[47,50],[55,51],[61,54],[70,55],[77,53.5],[83,51],[87,49]],[[53,42],[56,45],[60,44],[66,41],[71,42],[80,42.5],[83,47],[87,49]],[[47,50],[47,45]],[[54,38],[61,36.5],[66,37.5],[74,37],[71,33],[66,29.5],[61,30]],[[68,24],[71,27],[74,32],[77,35]],[[74,37],[80,30.5],[88,28],[97,28],[98,24],[101,21.5],[106,22.5],[108,21.5]],[[87,49],[98,52],[107,50],[116,50],[120,47],[112,44],[100,42],[91,45],[87,49]],[[116,50],[120,53.5],[127,50],[135,48.5],[131,43]],[[98,24],[98,16],[99.5,11]],[[101,21.5],[105,18],[107.5,14],[105.5,10.5]],[[124.5,40],[130,42.5]],[[88,26],[92,22]]];

const uCounts = [0,0,0,0,0,0,0,0,0,0,1,0,0,0,1,0,44,54,111,156,197,139,86,52,18,13,2,0,0,0,0,0,0,0,0,0,0,0,0,0];
const vCounts = [0,0,0,0,0,0,0,0,0,0,0,0,2,1,0,0,0,27,68,161,332,200,14,58,14,0,0,0,0,0,0,0,0,0,0,0,0,0,0,0];
const binWidth = 5, binStart = -100;

const infoLines = [
 {t:"Pico Balloon Archive",y:50.6,s:22.2,c:"#1a5276",dx:0},
 {t:"Callsign: DF7PN   (OTHER)",y:73.3,s:19.4,c:"#000",dx:0},
 {t:"2024-07-19 09:26:00  to  2024-08-19 01:16:00  UTC",y:94.4,s:15.2,c:"#000",dx:0},
 {t:"Time aloft: 30.7 days    Data points: 1063",y:117.7,s:15.3,c:"#000",dx:0},
 {t:"Altitude: 7000 - 9400 m    (float 491 h)",y:140.7,s:15.3,c:"#000",dx:0},
 {t:"Latitude range: 41.52 to 78.73",y:163.7,s:15.3,c:"#000",dx:0},
 {t:"Path length: 26,472 km",y:186.7,s:15.3,c:"#000",dx:0},
 {t:"Position source: reported GPS    σ(E,N) = 1234, 1836 m",y:209.7,s:15.3,c:"#000",dx:0},
 {t:"Median sampling gap: 10 min    Longest gap: 229.3 h",y:232.7,s:15.3,c:"#000",dx:0},
 {t:"Data quality score: 0.883",y:257,s:18,c:"#1a5276",dx:0},
 {t:"precision=0.84   cadence=1.00   agreement=1.00   stability=0.99   coverage=0.67",y:278,s:12.55,c:"#555",dx:4.5}];

// ---------- layout & helpers
const COLS=[[74.5,784.5],[857.3,1567.3]], ROWS=[[31.5,337.5],[420.8,727],[808.5,1115]];
const svg=d3.select("#c");
const RED="#c0392b", TICK=13.9, LAB=13.9, TTL=16.67, LEG=11.1;
const dayDate=d=>new Date(Date.UTC(2024,6,21)+d*864e5);
const fmtDate=d3.utcFormat("%y-%m-%d");
const minus=v=>String(v).replace("-","\u2212");
function timeScale(c,a,b){const m=(b-a)*.05;return d3.scaleUtc().domain([dayDate(a-m),dayDate(b+m)]).range(COLS[c]);}
function gridLines(g,xs,ys,xv,yv,opt={}){
  const [x0,x1]=xs.range(),[y1,y0]=ys.range();
  const st=l=>l.attr("stroke",opt.color||"#b0b0b0").attr("stroke-opacity",opt.op||.35).attr("stroke-width",opt.w||1).attr("stroke-dasharray",opt.dash||null);
  g.append("g").selectAll("line").data(xv).join("line").attr("x1",d=>xs(d)).attr("x2",d=>xs(d)).attr("y1",y0).attr("y2",y1).call(st);
  g.append("g").selectAll("line").data(yv).join("line").attr("y1",d=>ys(d)).attr("y2",d=>ys(d)).attr("x1",x0).attr("x2",x1).call(st);
}
function frame(xs,ys,xv,yv,xfmt,rot){
  const [x0,x1]=xs.range(),[y1,y0]=ys.range();
  const ax=svg.append("g").attr("transform",`translate(0,${y1})`).call(d3.axisBottom(xs).tickValues(xv).tickFormat(xfmt).tickSize(4.9).tickSizeOuter(0).tickPadding(3.5));
  const ay=svg.append("g").attr("transform",`translate(${x0},0)`).call(d3.axisLeft(ys).tickValues(yv).tickFormat(minus).tickSize(4.9).tickSizeOuter(0).tickPadding(3.5));
  [ax,ay].forEach(a=>{a.select(".domain").remove();a.selectAll("line").attr("stroke","#000").attr("stroke-width",1.1);
    a.selectAll("text").attr("font-size",TICK).attr("font-family","DejaVu Sans").attr("fill","#000");});
  if(rot) ax.selectAll("text").attr("y",null).attr("dy",null).attr("text-anchor","middle").attr("dominant-baseline","central").attr("transform","translate(-1,29.5) rotate(-20)");
  svg.append("rect").attr("x",x0).attr("y",y0).attr("width",x1-x0).attr("height",y1-y0).attr("fill","none").attr("stroke","#000").attr("stroke-width",1.1);
}
function title(x,y,t){svg.append("text").attr("x",x).attr("y",y).attr("text-anchor","middle").attr("font-size",TTL).text(t);}
function xLabel(x,y,t,sup){const e=svg.append("text").attr("x",x).attr("y",y).attr("text-anchor","middle").attr("font-size",LAB).attr("dominant-baseline","central");addSup(e,t,sup);}
function yLabel(x,y,t,sup){const e=svg.append("text").attr("text-anchor","middle").attr("font-size",LAB).attr("dominant-baseline","central").attr("transform",`translate(${x},${y}) rotate(-90)`);addSup(e,t,sup);}
function addSup(e,t,sup){ if(!sup){e.text(t);return;}
  e.append("tspan").text(t); e.append("tspan").text("\u22121").attr("font-size",9.7).attr("dy",-5.5); e.append("tspan").text(")").attr("dy",5.5);}
function legendBox(x0,x1,y0,y1){svg.append("rect").attr("x",x0).attr("y",y0).attr("width",x1-x0).attr("height",y1-y0).attr("rx",3).attr("fill","#fff").attr("fill-opacity",.8).attr("stroke","#ccc").attr("stroke-width",1);}
function legendText(x,y,t){svg.append("text").attr("x",x).attr("y",y).attr("font-size",LEG).attr("dominant-baseline","central").attr("fill","#000").text(t);}
const starPath=(()=>{const p=[];for(let i=0;i<10;i++){const r=i%2?4.2:11,a=-Math.PI/2+i*Math.PI/5;p.push([r*Math.cos(a),r*Math.sin(a)]);}return d3.line()(p)+"Z";})();

const leftX=timeScale(0,meanStartDay,flightEndDay), rightX=timeScale(1,flightStartDay,flightEndDay);
const tickVals=dateTicks.map(s=>new Date(s+"T00:00:00Z"));

// ---------- Flight Track
{
  const xs=d3.scaleLinear().domain([-180,180]).range(COLS[0]);
  const ys=d3.scaleLinear().domain([-90,90]).range([ROWS[0][1],ROWS[0][0]]);
  const line=d3.line().x(d=>xs(d[0])).y(d=>ys(d[1]));
  const clipId="mapclip";
  svg.append("clipPath").attr("id",clipId).append("rect").attr("x",COLS[0][0]).attr("y",ROWS[0][0]).attr("width",COLS[0][1]-COLS[0][0]).attr("height",ROWS[0][1]-ROWS[0][0]);
  const g=svg.append("g").attr("clip-path",`url(#${clipId})`);
  g.append("rect").attr("x",COLS[0][0]).attr("y",ROWS[0][0]).attr("width",COLS[0][1]-COLS[0][0]).attr("height",ROWS[0][1]-ROWS[0][0]).attr("fill","#d4e6f1");
  g.append("g").selectAll("path").data(landPolygons).join("path").attr("d",d=>line(d)+"Z").attr("fill","#e8e8e4").attr("stroke","#bcc8cf").attr("stroke-width",.8).attr("stroke-linejoin","round");
  g.append("path").attr("d",line(caspianSea)+"Z").attr("fill","#d4e6f1").attr("stroke","#bcc8cf").attr("stroke-width",.6);
  g.append("g").selectAll("path").data(borderLines).join("path").attr("d",line).attr("fill","none").attr("stroke","#d5d8d8").attr("stroke-width",.7);
  gridLines(g,xs,ys,[-120,-60,0,60,120],[-60,-30,0,30,60],{color:"#8a9499",op:.33,w:.6,dash:"2,1.6"});
  g.append("g").selectAll("circle").data(trackPoints.concat(trackDense)).join("circle").attr("cx",d=>xs(d[0])).attr("cy",d=>ys(d[1])).attr("r",2.5).attr("fill",RED);
  g.append("circle").attr("cx",xs(launchPoint[0])).attr("cy",ys(launchPoint[1])).attr("r",8.3).attr("fill","#27ae60").attr("stroke","#000").attr("stroke-width",1.4);
  g.append("path").attr("d",starPath).attr("transform",`translate(${xs(lastFixPoint[0])},${ys(lastFixPoint[1])})`).attr("fill","#2471a3").attr("stroke","#000").attr("stroke-width",1.4);
  frame(xs,ys,[-180,-120,-60,0,60,120,180],[-90,-60,-30,0,30,60,90],minus,false);
  legendBox(80.8,161,283.7,333);
  svg.append("circle").attr("cx",96).attr("cy",292.3).attr("r",2.3).attr("fill",RED);
  svg.append("circle").attr("cx",96).attr("cy",308.3).attr("r",8.3).attr("fill","#27ae60").attr("stroke","#000").attr("stroke-width",1.4);
  svg.append("path").attr("d",starPath).attr("transform","translate(96,323.5)").attr("fill","#2471a3").attr("stroke","#000").attr("stroke-width",1.4);
  legendText(116,292.3,"Track");legendText(116,308,"Launch");legendText(116,323.3,"Last fix");
  title(429.5,24,"Flight Track");
  xLabel(429.5,374.5,"Longitude (deg)");
  yLabel(22.5,184.5,"Latitude (deg)");
}

// ---------- Info block
svg.append("g").selectAll("text").data(infoLines).join("text").attr("x",d=>1211.5+d.dx).attr("y",d=>d.y).attr("text-anchor","middle").attr("dominant-baseline","central").attr("font-size",d=>d.s).attr("fill",d=>d.c).text(d=>d.t);

// ---------- Wind Speed
{
  const ys=d3.scaleLinear().domain([0,50.28]).range([ROWS[1][1],ROWS[1][0]]);
  const g=svg.append("g");
  gridLines(g,leftX,ys,tickVals,[10,20,30,40,50]);
  const area=d3.area().x(d=>leftX(dayDate(d[0]))).y0(d=>ys(d[2])).y1(d=>ys(d[1]));
  g.append("path").attr("d",area(windBand)).attr("fill","#7f8c8d").attr("fill-opacity",.35);
  g.append("g").selectAll("circle").data(windPoints.concat(windDense)).join("circle").attr("cx",d=>leftX(dayDate(d[0]))).attr("cy",d=>ys(d[1])).attr("r",2.2).attr("fill","#2c3e50");
  const ln=d3.line().x((d,i)=>leftX(dayDate(meanDays[i]))).y(d=>ys(d));
  g.append("path").attr("d",ln(meanWind)).attr("fill","none").attr("stroke",RED).attr("stroke-width",1.9);
  frame(leftX,ys,tickVals,[0,10,20,30,40,50],fmtDate,true);
  legendBox(80.7,242.3,425.7,475);
  svg.append("rect").attr("x",84.3).attr("y",430.3).attr("width",23.8).attr("height",9).attr("fill","#7f8c8d").attr("fill-opacity",.35);
  svg.append("circle").attr("cx",96.3).attr("cy",450.3).attr("r",1.9).attr("fill","#2c3e50");
  svg.append("line").attr("x1",84.3).attr("x2",108).attr("y1",464.8).attr("y2",464.8).attr("stroke",RED).attr("stroke-width",1.9);
  legendText(116.5,435.5,"\u00b11σ propagated error");legendText(116.5,450.5,"Wind speed");legendText(116.5,466,"Daily mean");
  title(429.5,411,"Wind Speed vs. Time");
  yLabel(28.5,574,"Wind speed (m s",true);
}

// ---------- Latitude
{
  const ys=d3.scaleLinear().domain([-90,90]).range([ROWS[1][1],ROWS[1][0]]);
  const g=svg.append("g");
  gridLines(g,rightX,ys,tickVals,[-60,-30,0,30,60]);
  g.append("g").selectAll("circle").data(latPoints.concat(latDense)).join("circle").attr("cx",d=>rightX(dayDate(d[0]))).attr("cy",d=>ys(d[1])).attr("r",2.5).attr("fill","#000");
  frame(rightX,ys,tickVals,[-90,-60,-30,0,30,60,90],fmtDate,true);
  title(1212.3,411,"Latitude vs. Time");
  yLabel(805.5,574,"Latitude (deg)");
}

// ---------- Altitude
{
  const ys=d3.scaleLinear().domain([6916,9311]).range([ROWS[2][1],ROWS[2][0]]);
  const g=svg.append("g");
  gridLines(g,leftX,ys,tickVals,[7000,7500,8000,8500,9000]);
  g.append("g").selectAll("circle").data(altPoints.concat(altDense)).join("circle").attr("cx",d=>leftX(dayDate(d[0]))).attr("cy",d=>ys(d[1])).attr("r",2).attr("fill","#7f8c8d");
  const ln=d3.line().x((d,i)=>leftX(dayDate(meanDays[i]))).y(d=>ys(d));
  g.append("path").attr("d",ln(meanAlt)).attr("fill","none").attr("stroke",RED).attr("stroke-width",1.9);
  frame(leftX,ys,tickVals,[7000,7500,8000,8500,9000],fmtDate,true);
  title(429.5,800,"Balloon Altitude vs. Time");
  xLabel(429.5,1171.5,"UTC date");
  yLabel(16,962,"Altitude (m AMSL)");
}

// ---------- Histogram
{
  const xs=d3.scaleLinear().domain([-100,100]).range(COLS[1]);
  const ys=d3.scaleLinear().domain([0,348.6]).range([ROWS[2][1],ROWS[2][0]]);
  const g=svg.append("g");
  gridLines(g,xs,ys,[-75,-50,-25,0,25,50,75],[50,100,150,200,250,300]);
  const bars=(arr,col)=>g.append("g").selectAll("rect").data(arr.map((c,i)=>({c,i})).filter(d=>d.c>0)).join("rect")
    .attr("x",d=>xs(binStart+d.i*binWidth)).attr("width",d=>xs(binStart+(d.i+1)*binWidth)-xs(binStart+d.i*binWidth))
    .attr("y",d=>ys(d.c)).attr("height",d=>ys(0)-ys(d.c)).attr("fill",col).attr("stroke","#000").attr("stroke-width",1.1).attr("opacity",.65);
  bars(uCounts,"#1f77b4");
  bars(vCounts,"#ff7f0e");
  frame(xs,ys,[-100,-75,-50,-25,0,25,50,75,100],[0,50,100,150,200,250,300],minus,false);
  legendBox(1442.3,1561.7,814.3,849);
  [["#1f77b4",823.3,"U (zonal)"],["#ff7f0e",838.3,"V (meridional)"]].forEach(([c,y,t])=>{
    svg.append("rect").attr("x",1446).attr("y",y-3.5).attr("width",22.7).attr("height",7.5).attr("fill",c).attr("stroke","#000").attr("stroke-width",1.1).attr("opacity",.65);
    legendText(1477.3,y,t);});
  title(1212.3,800,"U and V Wind Components");
  xLabel(1212.3,1154,"Wind speed (m s",true);
  yLabel(808.5,962,"Frequency");
}
</script>
</body></html>
